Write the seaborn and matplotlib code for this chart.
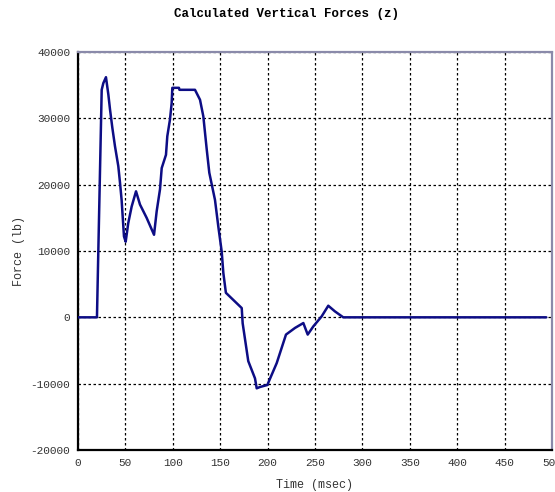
import matplotlib
matplotlib.use("Agg")
import matplotlib.pyplot as plt
import seaborn as sns
import pandas as pd
from matplotlib.ticker import MultipleLocator

# Time samples (msec) and vertical force (lb)
time_ms = [0, 20, 21, 25, 26.7, 29.5, 32, 33.8, 36.2, 39, 42.5, 44.3, 46, 48.5, 50.3,
           53, 56.6, 61.2, 65.4, 72.4, 80.2, 83, 86.5, 88.3, 92.8, 94.2, 97, 98.8, 99.5,
           106.5, 107, 123.4, 128.7, 132.2, 134, 135.8, 138.5, 144.5, 148, 151.6, 153.3,
           156, 172.7, 173.7, 179.6, 186.7, 188.5, 192, 199.7, 209.6, 219.4, 228.9, 237.7,
           242.3, 248.2, 257, 264, 271, 279.8, 494]
force_lb = [0, 0, 7000, 34300, 35300, 36200, 33600, 31300, 28600, 25800, 22800, 20300,
            17700, 12200, 11400, 14200, 16700, 19000, 17000, 15000, 12450, 16000, 19300,
            22500, 24500, 27300, 29800, 32300, 34600, 34600, 34300, 34300, 32800, 30300,
            27800, 25300, 21800, 17700, 13700, 9900, 6700, 3700, 1400, -900, -6600, -9200,
            -10700, -10500, -10200, -6900, -2600, -1600, -860, -2600, -1370, 140, 1750, 900,
            0, 0]

x_ticks = [0, 50, 100, 150, 200, 250, 300, 350, 400, 450, 500]
y_ticks = [-20000, -10000, 0, 10000, 20000, 30000, 40000]

df = pd.DataFrame({"Time (msec)": time_ms, "Force (lb)": force_lb})

sns.set_style("white")
plt.rcParams["font.family"] = ["Liberation Mono", "DejaVu Sans Mono"]

fig = plt.figure(figsize=(5.55, 4.92), dpi=100)
ax = fig.add_axes([78 / 555, 1 - 450 / 492, 474 / 555, 398 / 492])

sns.lineplot(data=df, x="Time (msec)", y="Force (lb)", ax=ax, color="#0d0d85",
             linewidth=1.8, zorder=3)

ax.set_xlim(0, 500)
ax.set_ylim(-20000, 40000)
ax.set_xticks(x_ticks)
ax.set_yticks(y_ticks)
ax.set_xticklabels([str(v) for v in x_ticks])
ax.set_yticklabels([str(v) for v in y_ticks])
ax.xaxis.set_minor_locator(MultipleLocator(10))
ax.yaxis.set_minor_locator(MultipleLocator(2000))

ax.grid(True, which="major", color="black", linestyle=(0, (2, 2)), linewidth=0.9)
ax.set_axisbelow(True)

for side in ("left", "bottom"):
    ax.spines[side].set_color("black")
    ax.spines[side].set_linewidth(1.6)
for side in ("top", "right"):
    ax.spines[side].set_color("#8a8aaa")
    ax.spines[side].set_linestyle((0, (1.5, 1)))
    ax.spines[side].set_linewidth(1.6)

ax.tick_params(axis="both", which="major", direction="inout", length=5, width=1.4,
               labelsize=8, colors="black", labelcolor="#333333", pad=3,
               top=False, right=False)
ax.tick_params(axis="both", which="minor", direction="in", length=3, width=1.4,
               colors="black", top=False, right=False)

ax.set_xlabel("Time (msec)", fontsize=8.5, color="#333333", labelpad=8)
ax.set_ylabel("Force (lb)", fontsize=8.5, color="#333333", labelpad=4)

fig.text(287 / 555, 1 - 14 / 492, "Calculated Vertical Forces (z)", ha="center",
         va="center", fontsize=9, fontweight="bold", color="black")

fig.savefig("out.png", dpi=100)
